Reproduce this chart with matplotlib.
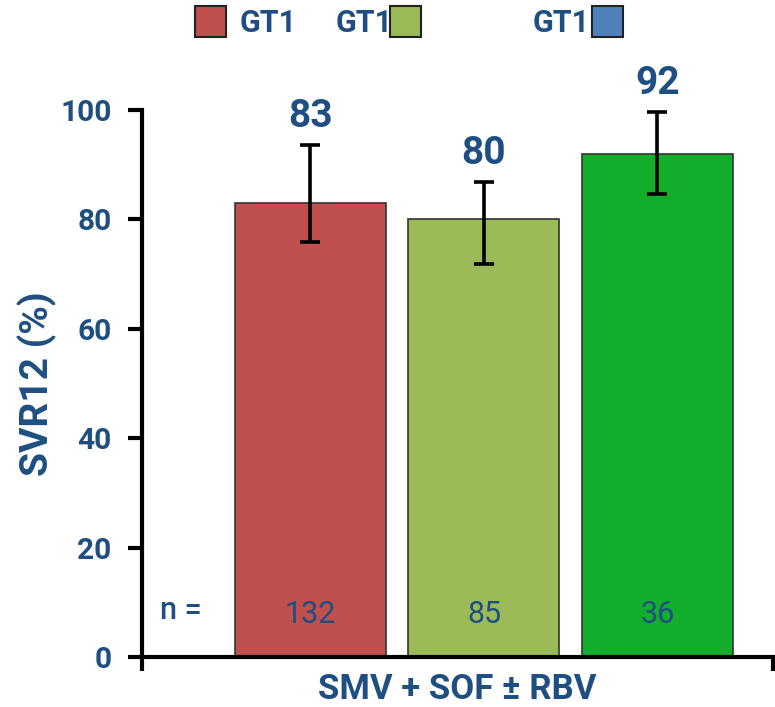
import matplotlib
matplotlib.use("Agg")
import matplotlib.pyplot as plt
from matplotlib.patches import Rectangle

# Data
groups = ["GT1a", "GT1b", "GT1"]
svr12 = [83, 80, 92]
err_low = [75.9, 71.8, 84.6]
err_high = [93.6, 86.8, 99.6]
n_patients = [132, 85, 36]
y_ticks = [0, 20, 40, 60, 80, 100]
legend_labels = ["GT1", "GT1", "GT1"]

bar_colors = ["#C0504D", "#9BBB59", "#12AD2B"]
legend_colors = ["#C0504D", "#9BBB59", "#4F81BD"]
navy = "#1F4E82"

plt.rcParams["font.family"] = ["Roboto", "DejaVu Sans"]

fig = plt.figure(figsize=(7.75, 7.07), dpi=100)
ax = fig.add_axes([142 / 775, 50 / 707, 631 / 775, 547 / 707])

x = [0, 1, 2]
ax.bar(x, svr12, width=0.87, color=bar_colors, edgecolor="#333333", linewidth=1.2, zorder=2)

yerr = [[v - lo for v, lo in zip(svr12, err_low)], [hi - v for v, hi in zip(svr12, err_high)]]
ax.errorbar(x, svr12, yerr=yerr, fmt="none", ecolor="black", elinewidth=2.6,
            capsize=7.5, capthick=2.6, zorder=3)

for xi, v, hi in zip(x, svr12, err_high):
    ax.annotate(f"{v}", (xi, hi), xytext=(0, 7), textcoords="offset points",
                ha="center", va="bottom", fontsize=28, fontweight="bold", color=navy)

for xi, n in zip(x, n_patients):
    ax.text(xi, 7.8, f"{n}", ha="center", va="center", fontsize=22, color=navy)
ax.text(-0.87, 8.5, "n =", ha="left", va="center", fontsize=22, fontweight="medium", color=navy)

ax.set_ylim(0, 100)
ax.set_xlim(-0.971, 2.666)
ax.set_yticks(y_ticks)
ax.set_yticklabels([str(t) for t in y_ticks], fontsize=21.5, fontweight="bold", color=navy)
ax.set_xticks([-0.971, 2.666])
ax.set_xticklabels(["", ""])
ax.tick_params(axis="y", direction="out", length=10, width=3, pad=12)
ax.tick_params(axis="x", direction="out", length=10, width=3)

for s in ["top", "right"]:
    ax.spines[s].set_visible(False)
for s in ["left", "bottom"]:
    ax.spines[s].set_linewidth(3)

ax.set_ylabel("SVR12 (%)", fontsize=28, fontweight="bold", color=navy, labelpad=2)
ax.set_xlabel("SMV + SOF ± RBV", fontsize=25, fontweight="bold", color=navy, labelpad=-2)

# Legend row drawn in figure pixels
def px(xp, yp):
    return xp / 775, 1 - yp / 707

sq_w, sq_h = 31 / 775, 31 / 707
legend_sq_x = [195, 390, 592]
legend_txt_x = [240, 336, 533]
for cx, tx, col, lab in zip(legend_sq_x, legend_txt_x, legend_colors, legend_labels):
    x0, y0 = px(cx, 37)
    fig.add_artist(Rectangle((x0, y0), sq_w, sq_h, transform=fig.transFigure,
                             facecolor=col, edgecolor="#222222", linewidth=1.5))
    tx0, ty0 = px(tx, 23)
    fig.text(tx0, ty0, lab, ha="left", va="center", fontsize=22, fontweight="bold", color=navy)

fig.savefig("out.png", dpi=100)
